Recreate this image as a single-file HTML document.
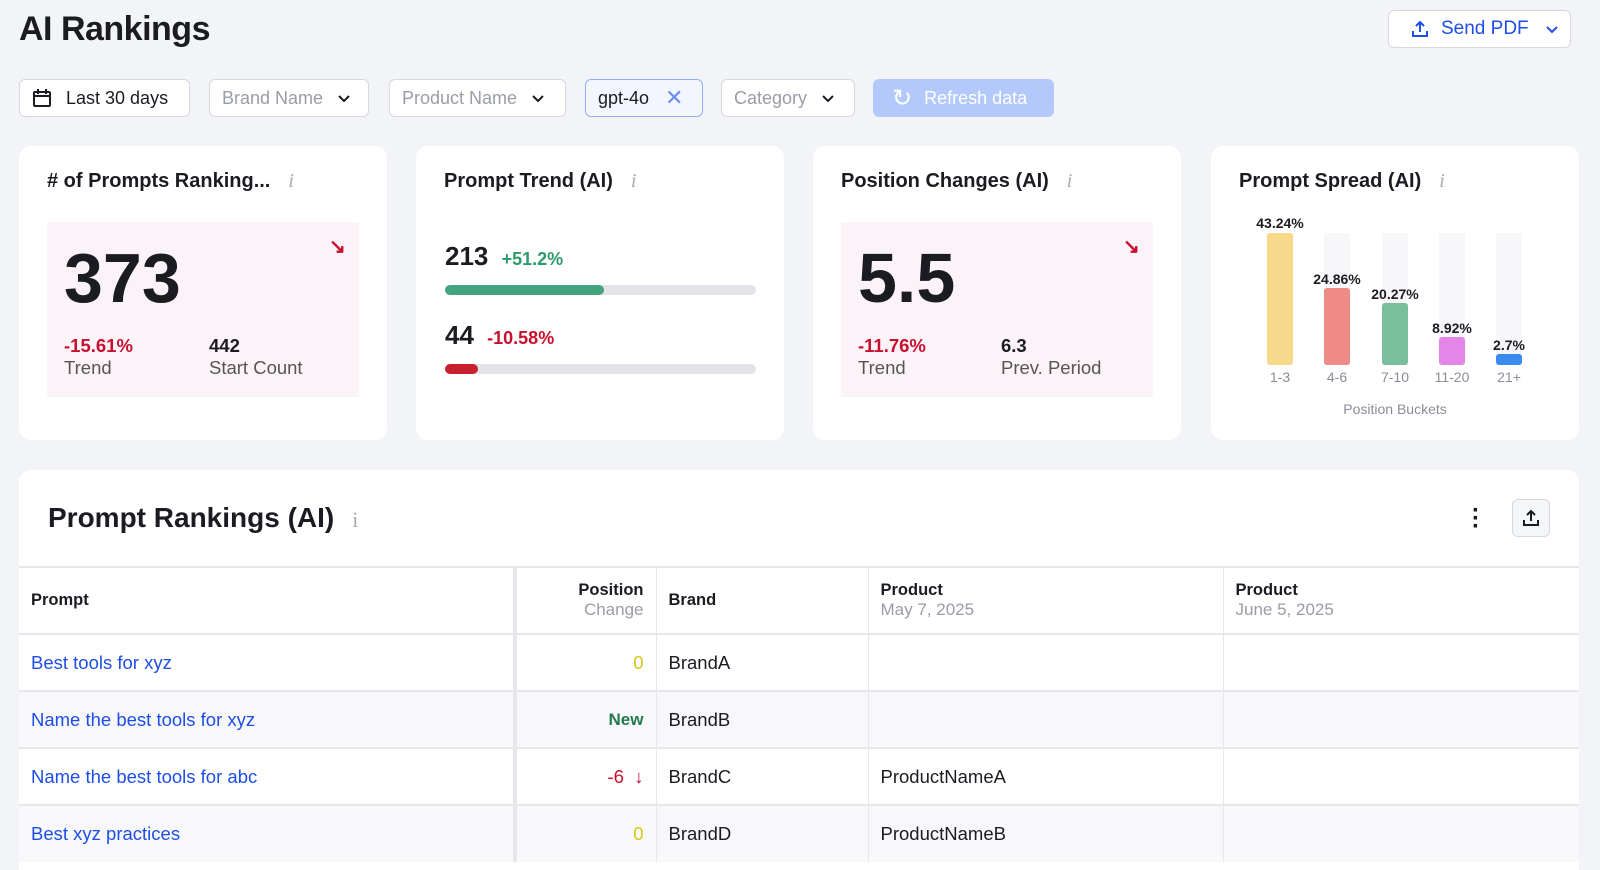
<!DOCTYPE html>
<html><head><meta charset="utf-8"><style>
*{box-sizing:border-box;margin:0;padding:0}
body{width:1600px;height:859px;overflow:hidden;background:#f3f4f8;font-family:"Liberation Sans",sans-serif;color:#1b1c22;position:relative}
.a{position:absolute}
.btn{position:absolute;top:79px;height:38px;border:1px solid #d6d8de;border-radius:6px;background:#fff;font-size:18px;display:flex;align-items:center;padding:0 12px;color:#9a9ca8}
.chev{margin-left:14px}
.card{position:absolute;top:146px;height:294px;width:368px;background:#fff;border-radius:12px}
.ct{position:absolute;left:28px;top:24px;font-size:20px;font-weight:bold;white-space:nowrap}
.ct i{font-family:"Liberation Serif",serif;color:#a9abb5;font-weight:normal;margin-left:18px}
.pink{position:absolute;left:28px;top:76px;width:312px;height:175px;background:#fcf3f8}
.big{position:absolute;left:17px;top:16px;font-size:70px;font-weight:bold;letter-spacing:0}
.red{color:#c8102e}
.sm{font-size:18.5px}
.bar{position:absolute;width:26px;border-radius:3px}
.trk{position:absolute;width:26px;top:233px;height:132px;background:#f7f7f9}
.bl{position:absolute;font-size:14px;font-weight:bold;width:70px;text-align:center}
.xl{position:absolute;top:369px;font-size:14px;color:#8a8d99;width:60px;text-align:center}
table{position:absolute;left:19px;top:566px;width:1560px;border-collapse:collapse;font-size:18.5px}
td{border-top:2px solid #e6e7eb;border-left:1px solid #e6e7eb;height:57px;padding:0 12px;vertical-align:middle}
tr.h td{height:67px;font-size:16.5px;font-weight:bold}
tr.h span{display:block;color:#9a9ca8;font-weight:normal;font-size:17px}
tr.g td{background:#f8f8fa}
.lk{color:#1d4ee8}
</style></head><body>
<div class="a" style="left:19px;top:10px;font-size:34px;font-weight:bold;letter-spacing:-0.5px">AI Rankings</div>
<div class="a" style="left:1388px;top:10px;width:183px;height:38px;border:1px solid #d6d8de;border-radius:6px;background:#fff;color:#1d4ee8;font-size:19px;display:flex;align-items:center;padding-left:22px">
<svg width="18" height="18" viewBox="0 0 18 18" fill="none" stroke="#1d4ee8" stroke-width="2"><path d="M9 12V2M5 6l4-4 4 4M2 11v5h14v-5"/></svg><span style="margin-left:12px">Send PDF</span><svg style="margin-left:16px" width="14" height="10" viewBox="0 0 14 10" fill="none" stroke="#1d4ee8" stroke-width="2"><path d="M2 3l5 5 5-5"/></svg></div>
<div class="btn" style="left:19px;width:171px;color:#1b1c22"><svg width="20" height="20" viewBox="0 0 20 20" fill="none" stroke="#1b1c22" stroke-width="2"><rect x="2" y="4" width="16" height="14" rx="1"/><path d="M2 8h16M6 1v5M14 1v5"/></svg><span style="margin-left:14px">Last 30 days</span></div>
<div class="btn" style="left:209px;width:160px">Brand Name<svg class="chev" width="14" height="10" viewBox="0 0 14 10" fill="none" stroke="#1b1c22" stroke-width="2"><path d="M2 3l5 5 5-5"/></svg></div>
<div class="btn" style="left:389px;width:177px">Product Name<svg class="chev" width="14" height="10" viewBox="0 0 14 10" fill="none" stroke="#1b1c22" stroke-width="2"><path d="M2 3l5 5 5-5"/></svg></div>
<div class="btn" style="left:585px;width:118px;color:#1b1c22;border-color:#8fb0f5;background:#f3f6ff">gpt-4o<span style="margin-left:16px;color:#6a8ef0;font-size:22px">&#10005;</span></div>
<div class="btn" style="left:721px;width:134px">Category<svg class="chev" width="14" height="10" viewBox="0 0 14 10" fill="none" stroke="#1b1c22" stroke-width="2"><path d="M2 3l5 5 5-5"/></svg></div>
<div class="btn" style="left:873px;width:181px;background:#b3c8fb;border-color:#b3c8fb;color:#fff;padding-left:18px"><span style="font-size:24px;margin-right:12px">&#8635;</span>Refresh data</div>

<div class="card" style="left:19px"><div class="ct"># of Prompts Ranking...<i>i</i></div>
<div class="pink"><div class="big">373</div><div class="a red" style="left:282px;top:12px;font-size:20px;font-weight:bold">&#8600;</div>
<div class="a sm" style="left:17px;top:113px"><b class="red">-15.61%</b><br><span style="color:#555">Trend</span></div>
<div class="a sm" style="left:162px;top:113px"><b>442</b><br><span style="color:#555">Start Count</span></div></div></div>

<div class="card" style="left:416px"><div class="ct">Prompt Trend (AI)<i>i</i></div>
<div class="a" style="left:29px;top:95px;font-size:26px;font-weight:bold">213 <span style="font-size:18px;color:#2e9a6a;margin-left:6px">+51.2%</span></div>
<div class="a" style="left:29px;top:139px;width:311px;height:10px;border-radius:5px;background:#e3e4e9"><div style="width:159px;height:10px;border-radius:5px;background:#44a37f"></div></div>
<div class="a" style="left:29px;top:174px;font-size:26px;font-weight:bold">44 <span style="font-size:18px;color:#c8102e;margin-left:6px">-10.58%</span></div>
<div class="a" style="left:29px;top:218px;width:311px;height:10px;border-radius:5px;background:#e3e4e9"><div style="width:33px;height:10px;border-radius:5px;background:#c8202e"></div></div></div>

<div class="card" style="left:813px"><div class="ct">Position Changes (AI)<i>i</i></div>
<div class="pink"><div class="big">5.5</div><div class="a red" style="left:282px;top:12px;font-size:20px;font-weight:bold">&#8600;</div>
<div class="a sm" style="left:17px;top:113px"><b class="red">-11.76%</b><br><span style="color:#555">Trend</span></div>
<div class="a sm" style="left:160px;top:113px"><b>6.3</b><br><span style="color:#555">Prev. Period</span></div></div></div>

<div class="card" style="left:1211px"><div class="ct">Prompt Spread (AI)<i>i</i></div></div>
<div class="trk" style="left:1267px"></div><div class="trk" style="left:1324px"></div><div class="trk" style="left:1382px"></div><div class="trk" style="left:1439px"></div><div class="trk" style="left:1496px"></div>
<div class="bar" style="left:1267px;top:233px;height:132px;background:#f7d98c"></div>
<div class="bar" style="left:1324px;top:288px;height:77px;background:#ee8b86"></div>
<div class="bar" style="left:1382px;top:303px;height:62px;background:#79bf9d"></div>
<div class="bar" style="left:1439px;top:337px;height:28px;background:#e685e8"></div>
<div class="bar" style="left:1496px;top:354px;height:11px;background:#3d8aef"></div>
<div class="bl" style="left:1245px;top:215px">43.24%</div>
<div class="bl" style="left:1302px;top:271px">24.86%</div>
<div class="bl" style="left:1360px;top:286px">20.27%</div>
<div class="bl" style="left:1417px;top:320px">8.92%</div>
<div class="bl" style="left:1474px;top:337px">2.7%</div>
<div class="xl" style="left:1250px">1-3</div><div class="xl" style="left:1307px">4-6</div><div class="xl" style="left:1365px">7-10</div><div class="xl" style="left:1422px">11-20</div><div class="xl" style="left:1479px">21+</div>
<div class="a" style="left:1295px;top:401px;width:200px;text-align:center;font-size:14px;color:#8a8d99">Position Buckets</div>

<div class="a" style="left:19px;top:470px;width:1560px;height:400px;background:#fff;border-radius:12px 12px 0 0"></div>
<div class="a" style="left:48px;top:502px;font-size:28px;font-weight:bold">Prompt Rankings (AI)<span style="font-family:'Liberation Serif',serif;color:#a9abb5;font-weight:normal;font-size:22px;margin-left:18px">i</span></div>
<div class="a" style="left:1472px;top:507px;font-size:24px;font-weight:bold;line-height:8px">&#183;<br>&#183;<br>&#183;</div>
<div class="a" style="left:1512px;top:499px;width:38px;height:38px;border:1px solid #d6d8de;border-radius:6px;background:#f5f6f8;display:flex;align-items:center;justify-content:center"><svg width="18" height="18" viewBox="0 0 18 18" fill="none" stroke="#1b1c22" stroke-width="2"><path d="M9 12V2M5 6l4-4 4 4M2 11v5h14v-5"/></svg></div>
<table>
<colgroup><col style="width:496px"><col style="width:141px"><col style="width:212px"><col style="width:355px"><col></colgroup>
<tr class="h"><td style="border-left:none">Prompt</td><td style="text-align:right;border-left:4px solid #e6e7eb">Position<span>Change</span></td><td>Brand</td><td>Product<span>May 7, 2025</span></td><td>Product<span>June 5, 2025</span></td></tr>
<tr><td class="lk" style="border-left:none">Best tools for xyz</td><td style="text-align:right;color:#d8c81a;border-left:4px solid #e6e7eb">0</td><td>BrandA</td><td></td><td></td></tr>
<tr class="g"><td class="lk" style="border-left:none">Name the best tools for xyz</td><td style="text-align:right;color:#217a4e;font-weight:bold;font-size:17px;border-left:4px solid #e6e7eb">New</td><td>BrandB</td><td></td><td></td></tr>
<tr><td class="lk" style="border-left:none">Name the best tools for abc</td><td style="text-align:right;color:#c8102e;border-left:4px solid #e6e7eb">-6 &nbsp;&#8595;</td><td>BrandC</td><td>ProductNameA</td><td></td></tr>
<tr class="g"><td class="lk" style="border-left:none">Best xyz practices</td><td style="text-align:right;color:#d8c81a;border-left:4px solid #e6e7eb">0</td><td>BrandD</td><td>ProductNameB</td><td></td></tr>
</table>
</body></html>
